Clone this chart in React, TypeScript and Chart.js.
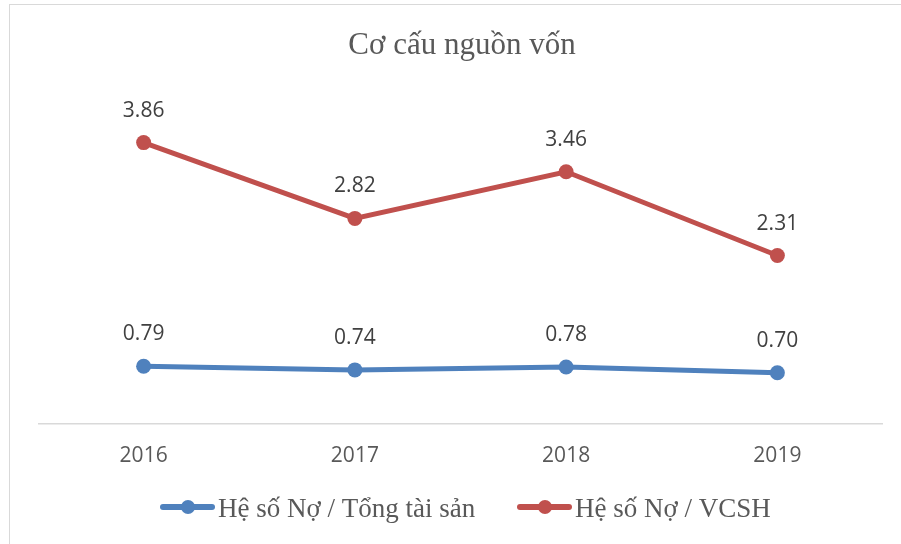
import React, { useEffect, useRef } from "react";
import { Chart, registerables } from "chart.js";

Chart.register(...registerables);

const title = "Cơ cấu nguồn vốn";
const years = ["2016", "2017", "2018", "2019"];
const debtToAssets = [0.79, 0.74, 0.78, 0.7];
const debtToEquity = [3.86, 2.82, 3.46, 2.31];
const seriesNames = ["Hệ số Nợ / Tổng tài sản", "Hệ số Nợ / VCSH"];
const seriesColors = ["#4F81BD", "#C0504D"];

const labelFont = "'Open Sans', 'Noto Sans', sans-serif";
const serifFont = "'Liberation Serif', 'Times New Roman', serif";

const overlayPlugin = {
  id: "overlay",
  beforeDatasetsDraw(chart: any) {
    const ctx = chart.ctx;
    const xs = chart.scales.x;
    const ys = chart.scales.y;
    const n = chart.data.labels.length;
    const band = n > 1 ? xs.getPixelForValue(1) - xs.getPixelForValue(0) : xs.width;
    const xStart = xs.getPixelForValue(0) - band / 2;
    const xEnd = xs.getPixelForValue(n - 1) + band / 2;
    const y0 = ys.getPixelForValue(0);
    ctx.save();
    ctx.strokeStyle = "#D9D9D9";
    ctx.lineWidth = 1.5;
    ctx.beginPath();
    ctx.moveTo(xStart, y0);
    ctx.lineTo(xEnd, y0);
    ctx.stroke();
    ctx.restore();
  },
  afterDatasetsDraw(chart: any) {
    const ctx = chart.ctx;
    ctx.save();
    // data labels
    ctx.font = `21px ${labelFont}`;
    ctx.fillStyle = "#404040";
    ctx.textAlign = "center";
    ctx.textBaseline = "middle";
    chart.data.datasets.forEach((ds: any, i: number) => {
      const meta = chart.getDatasetMeta(i);
      meta.data.forEach((pt: any, j: number) => {
        ctx.fillText(Number(ds.data[j]).toFixed(2), pt.x, pt.y - 32);
      });
    });
    // title
    ctx.font = `31px ${serifFont}`;
    ctx.fillStyle = "#595959";
    ctx.textBaseline = "alphabetic";
    ctx.fillText(title, 462, 54);
    // legend
    const legendY = 507;
    const starts = [160, 517];
    ctx.font = `27px ${serifFont}`;
    ctx.textAlign = "left";
    ctx.textBaseline = "alphabetic";
    chart.data.datasets.forEach((ds: any, i: number) => {
      const x0 = starts[i];
      ctx.strokeStyle = seriesColors[i];
      ctx.lineWidth = 6;
      ctx.lineCap = "round";
      ctx.beginPath();
      ctx.moveTo(x0 + 3, legendY);
      ctx.lineTo(x0 + 52, legendY);
      ctx.stroke();
      ctx.fillStyle = seriesColors[i];
      ctx.beginPath();
      ctx.arc(x0 + 28, legendY, 7, 0, Math.PI * 2);
      ctx.fill();
      ctx.fillStyle = "#595959";
      ctx.fillText(ds.label, x0 + 58, 517);
    });
    ctx.restore();
  },
};

export default function App() {
  const ref = useRef<HTMLCanvasElement | null>(null);
  useEffect(() => {
    if (!ref.current) return;
    const chart = new Chart(ref.current, {
      type: "line",
      data: {
        labels: years,
        datasets: [
          {
            label: seriesNames[0],
            data: debtToAssets,
            borderColor: seriesColors[0],
            backgroundColor: seriesColors[0],
            borderWidth: 5,
            pointRadius: 7.5,
            pointHoverRadius: 7.5,
            pointBorderWidth: 0,
            tension: 0,
          },
          {
            label: seriesNames[1],
            data: debtToEquity,
            borderColor: seriesColors[1],
            backgroundColor: seriesColors[1],
            borderWidth: 5,
            pointRadius: 7.5,
            pointHoverRadius: 7.5,
            pointBorderWidth: 0,
            tension: 0,
          },
        ],
      },
      options: {
        animation: false,
        responsive: false,
        maintainAspectRatio: false,
        events: [],
        layout: { padding: { left: 38, right: 18, top: 96, bottom: 55 } },
        plugins: {
          legend: { display: false },
          title: { display: false },
          tooltip: { enabled: false },
        },
        scales: {
          x: {
            offset: true,
            grid: { display: false, drawTicks: false },
            border: { display: false },
            ticks: {
              padding: 20,
              color: "#595959",
              font: { family: labelFont, size: 21 },
            },
          },
          y: {
            display: false,
            min: 0,
            max: 4.5,
          },
        },
      },
      plugins: [overlayPlugin],
    });
    return () => chart.destroy();
  }, []);
  return (
    <div style={{ position: "fixed", left: 0, top: 0, width: 901, height: 544, background: "#fff" }}>
      <canvas ref={ref} width={901} height={544} style={{ position: "absolute", left: 0, top: 0 }} />
      <div
        style={{
          position: "absolute",
          left: 9,
          top: 4,
          width: 900,
          height: 545,
          borderTop: "1px solid #D9D9D9",
          borderLeft: "1px solid #D9D9D9",
          pointerEvents: "none",
        }}
      />
    </div>
  );
}
